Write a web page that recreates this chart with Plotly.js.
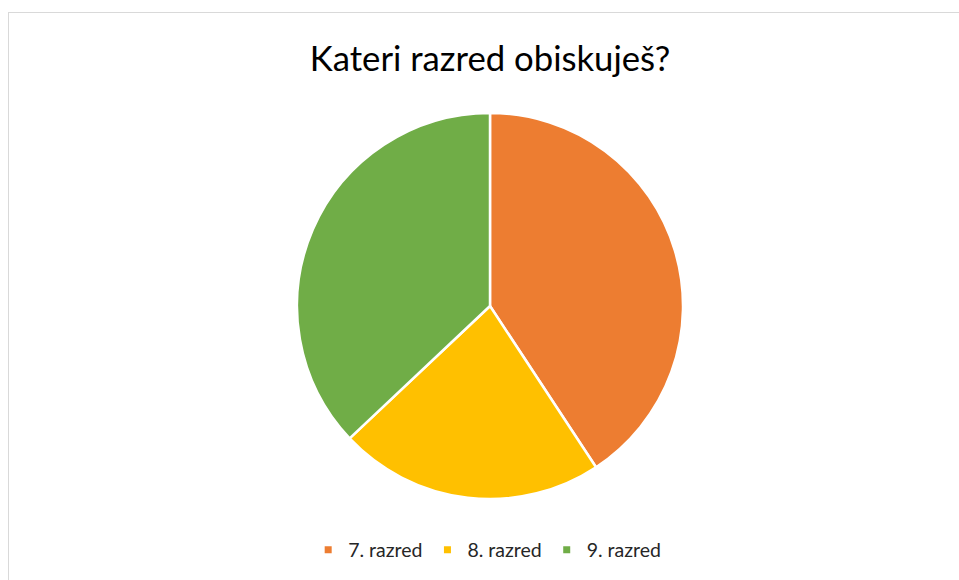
<!DOCTYPE html>
<html>
<head>
<meta charset="utf-8">
<script src="https://cdn.plot.ly/plotly-3.0.1.min.js"></script>
<style>
  html, body { margin: 0; padding: 0; background: #fff; overflow: hidden; }
  #frame { position: absolute; left: 8px; top: 12px; width: 1000px; height: 700px; border: 1px solid #d9d9d9; box-sizing: border-box; pointer-events: none; z-index: 5; }
  #chart { position: absolute; left: 0; top: 0; width: 959px; height: 580px; }
</style>
</head>
<body>
<div id="chart"></div>
<div id="frame"></div>
<script>
const categories = ["7. razred", "8. razred", "9. razred"];
const values = [11, 6, 10];
const colors = ["#ED7D31", "#FFC000", "#70AD47"];
const titleText = "Kateri razred obiskuješ?";

const pie = {
  type: "pie",
  labels: categories,
  values: values,
  sort: false,
  direction: "clockwise",
  rotation: 0,
  textinfo: "none",
  hoverinfo: "label+value+percent",
  showlegend: false,
  marker: { colors: colors, line: { color: "#ffffff", width: 2.5 } },
  domain: { x: [0, 1], y: [0, 1] }
};

const legendTraces = categories.map((c, i) => ({
  type: "scatter",
  mode: "markers",
  x: [null], y: [null],
  name: c,
  marker: { symbol: "square", size: 7, color: colors[i] },
  showlegend: true,
  hoverinfo: "skip"
}));

const layout = {
  width: 959, height: 580,
  margin: { l: 21, r: 0, t: 113, b: 81 },
  paper_bgcolor: "#ffffff",
  plot_bgcolor: "rgba(0,0,0,0)",
  font: { family: "Lato, 'Open Sans', sans-serif", color: "#404040" },
  title: {
    text: titleText,
    font: { family: "Lato, 'Open Sans', sans-serif", size: 34.7, color: "#000000" },
    x: 0.511, xanchor: "center", xref: "container",
    y: 1 - 59 / 580, yanchor: "middle", yref: "container"
  },
  xaxis: { visible: false },
  yaxis: { visible: false },
  showlegend: true,
  legend: {
    orientation: "h",
    x: 0.497, xanchor: "center",
    y: -51 / 386, yanchor: "middle",
    font: { size: 19.5, color: "#262626" },
    itemclick: false
  }
};

Plotly.newPlot("chart", [pie, ...legendTraces], layout, { displayModeBar: false, staticPlot: true });
</script>
</body>
</html>
